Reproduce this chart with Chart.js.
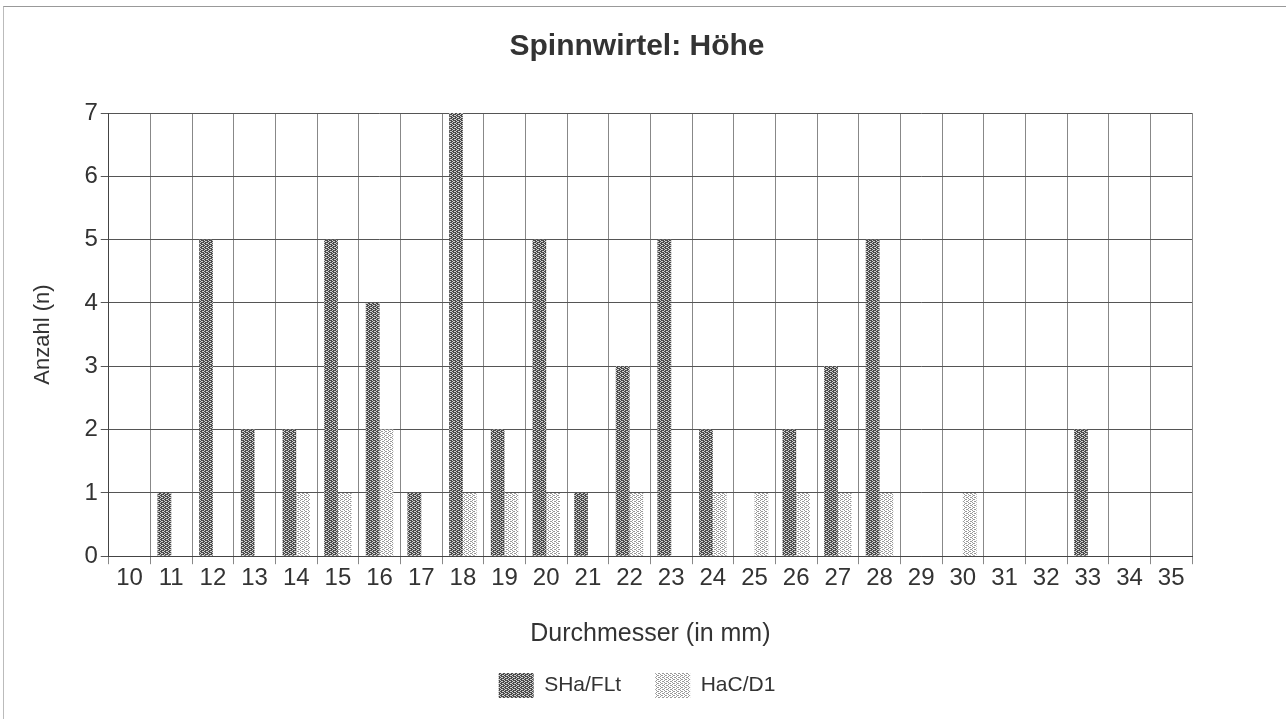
<!DOCTYPE html>
<html>
<head>
<meta charset="utf-8">
<script src="https://cdn.jsdelivr.net/npm/chart.js@4.4.0/dist/chart.umd.min.js"></script>
<style>
  body { margin: 0; background: #fff; }
  #wrap { position: relative; width: 1286px; height: 719px; }
  #frame { position: absolute; left: 3px; top: 6px; right: 0; bottom: 0; border-top: 1px solid #999; border-left: 1px solid #bbb; pointer-events: none; }
</style>
</head>
<body>
<div id="wrap">
  <canvas id="chart" width="1286" height="719"></canvas>
  <div id="frame"></div>
</div>
<script>
const categories = ['10', '11', '12', '13', '14', '15', '16', '17', '18', '19', '20', '21', '22',
  '23', '24', '25', '26', '27', '28', '29', '30', '31', '32', '33', '34', '35'];
const sHaFLt = [0, 1, 5, 2, 2, 5, 4, 1, 7, 2, 5, 1, 3, 5, 2, 0, 2, 3, 5, 0, 0, 0, 0, 2, 0, 0];
const haCD1 = [0, 0, 0, 0, 1, 1, 2, 0, 1, 1, 1, 0, 1, 0, 1, 1, 1, 1, 1, 0, 1, 0, 0, 0, 0, 0];
const yTicks = [0, 1, 2, 3, 4, 5, 6, 7];

// Rastermuster wie im Scan
const makePattern = (base, dot, cells) => {
  const c = document.createElement('canvas');
  c.width = 4;
  c.height = 4;
  const g = c.getContext('2d');
  g.fillStyle = base;
  g.fillRect(0, 0, 4, 4);
  g.fillStyle = dot;
  cells.forEach(([x, y]) => g.fillRect(x, y, 1, 1));
  return g.createPattern(c, 'repeat');
};

const ctx = document.getElementById('chart').getContext('2d');
const darkPattern = makePattern('#4a4a4a', '#d0d0d0', [[0, 0], [2, 1], [0, 2], [2, 3], [1, 1], [3, 3]]);
const lightPattern = makePattern('#ffffff', '#999999', [[0, 0], [2, 1], [0, 2], [2, 3], [1, 3], [3, 1]]);

const font = 'Liberation Sans, Arial, sans-serif';

/* global Chart */
new Chart(ctx, {
  type: 'bar',
  data: {
    labels: categories,
    datasets: [{
      label: 'SHa/FLt',
      data: sHaFLt,
      backgroundColor: darkPattern,
      borderWidth: 0,
      categoryPercentage: 0.66,
      barPercentage: 1.0,
    }, {
      label: 'HaC/D1',
      data: haCD1,
      backgroundColor: lightPattern,
      borderWidth: 0,
      categoryPercentage: 0.66,
      barPercentage: 1.0,
    }],
  },
  options: {
    responsive: false,
    animation: false,
    layout: { padding: { left: 18, right: 30, top: 13, bottom: 11 } },
    plugins: {
      title: {
        display: true,
        text: 'Spinnwirtel: Höhe',
        color: '#333',
        font: { family: font, size: 30, weight: 'bold' },
        padding: { top: 16, bottom: 48 },
      },
      legend: {
        position: 'bottom',
        labels: {
          color: '#333',
          font: { family: font, size: 21 },
          boxWidth: 35,
          boxHeight: 25,
          padding: 34,
        },
      },
      tooltip: { enabled: false },
    },
    scales: {
      x: {
        grid: { color: '#888', lineWidth: 1, tickLength: 8, offset: true },
        border: { color: '#444' },
        ticks: { color: '#333', font: { family: font, size: 24 }, padding: 0, maxRotation: 0 },
        title: {
          display: true,
          text: 'Durchmesser (in mm)',
          color: '#333',
          font: { family: font, size: 25 },
          padding: { top: 26, bottom: -10 },
        },
      },
      y: {
        min: 0,
        max: 7,
        afterBuildTicks: (axis) => { axis.ticks = yTicks.map((v) => ({ value: v })); },
        grid: { color: '#555', lineWidth: 1, tickLength: 8 },
        border: { color: '#444' },
        ticks: { color: '#333', font: { family: font, size: 24 }, padding: 3 },
        title: {
          display: true,
          text: 'Anzahl (n)',
          color: '#333',
          font: { family: font, size: 22 },
          padding: { top: 12, bottom: 25 },
        },
      },
      // leerer Rand rechts, damit der Titel mittig bleibt
      yRand: {
        position: 'right',
        grid: { display: false },
        border: { display: false },
        ticks: { display: false },
        afterFit: (axis) => { axis.width = 64; },
      },
    },
  },
});
</script>
</body>
</html>
